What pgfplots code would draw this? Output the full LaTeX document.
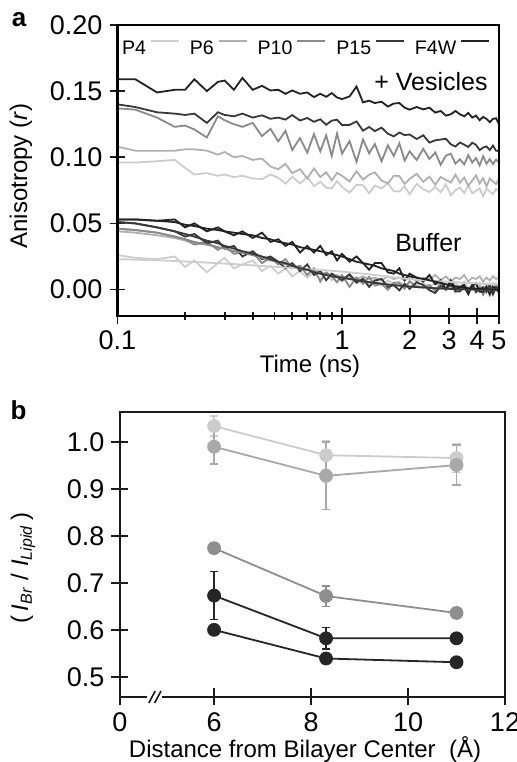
\documentclass[border=0pt]{standalone}
\usepackage{fontspec}
\setmainfont{Liberation Sans}
\usepackage{pgfplots}
\usepackage{pgfplotstable}
\pgfplotsset{compat=1.18}
\definecolor{cP4}{HTML}{CDCDCD}
\definecolor{cP6}{HTML}{B0B0B0}
\definecolor{cP10}{HTML}{8A8A8A}
\definecolor{cP15}{HTML}{383838}
\definecolor{cF4W}{HTML}{222222}
\definecolor{bS1}{HTML}{CCCCCC}
\definecolor{bS2}{HTML}{A9A9A9}
\definecolor{bS3}{HTML}{8E8E8E}
\definecolor{bS4}{HTML}{262626}
\definecolor{spine}{HTML}{1A1A1A}

\pgfplotstableread{
t V1 V2 V3 V4 V5 B1 B2 B3 B4 B5 F1 F2 F3 F5
0.10 0.159 0.140 0.137 0.108 0.096 0.053 0.051 0.046 0.044 0.026 0.053 0.051 0.046 0.0230
0.12 0.159 0.138 0.136 0.105 0.096 0.053 0.050 0.045 0.043 0.024 0.053 0.050 0.045 0.0226
0.15 0.149 0.134 0.130 0.105 0.097 0.052 0.047 0.043 0.041 0.023 0.052 0.047 0.043 0.0221
0.18 0.151 0.133 0.123 0.105 0.098 0.053 0.044 0.040 0.039 0.025 0.051 0.044 0.040 0.0216
0.20 0.151 0.132 0.124 0.106 0.092 0.047 0.040 0.038 0.037 0.017 0.049 0.042 0.038 0.0212
0.22 0.159 0.133 0.121 0.106 0.087 0.050 0.042 0.034 0.035 0.022 0.048 0.040 0.036 0.0209
0.25 0.150 0.126 0.115 0.105 0.088 0.044 0.035 0.036 0.034 0.013 0.046 0.037 0.034 0.0204
0.28 0.157 0.134 0.131 0.102 0.086 0.047 0.037 0.030 0.032 0.020 0.045 0.035 0.032 0.0199
0.30 0.158 0.132 0.128 0.104 0.087 0.044 0.031 0.033 0.031 0.024 0.044 0.033 0.031 0.0196
0.33 0.151 0.131 0.125 0.100 0.085 0.041 0.033 0.027 0.029 0.016 0.043 0.031 0.029 0.0192
0.36 0.160 0.133 0.123 0.101 0.086 0.044 0.025 0.028 0.028 0.019 0.042 0.029 0.028 0.0188
0.40 0.151 0.130 0.126 0.098 0.084 0.039 0.029 0.028 0.026 0.022 0.041 0.027 0.026 0.0183
0.44 0.154 0.1317 0.116 0.099 0.0835 0.043 0.023 0.020 0.025 0.014 0.039 0.025 0.024 0.0178
0.48 0.1505 0.1291 0.1215 0.093 0.087 0.036 0.025 0.024 0.023 0.018 0.038 0.023 0.022 0.0174
0.52 0.151 0.130 0.112 0.091 0.0845 0.038 0.021 0.019 0.021 0.012 0.036 0.021 0.021 0.0170
0.56 0.148 0.1285 0.120 0.095 0.080 0.033 0.016 0.023 0.020 0.016 0.035 0.020 0.019 0.0166
0.60 0.1505 0.1319 0.1055 0.088 0.0852 0.036 0.020 0.016 0.018 0.010 0.034 0.018 0.018 0.0163
0.65 0.148 0.1278 0.1145 0.091 0.0802 0.028 0.014 0.018 0.017 0.014 0.032 0.016 0.016 0.0159
0.70 0.149 0.1297 0.1035 0.084 0.0852 0.033 0.019 0.011 0.015 0.009 0.031 0.015 0.015 0.0155
0.75 0.1455 0.1268 0.1175 0.0915 0.0782 0.028 0.011 0.016 0.015 0.013 0.030 0.013 0.014 0.0151
0.80 0.148 0.1287 0.1045 0.085 0.0815 0.033 0.014 0.006 0.013 0.008 0.029 0.012 0.012 0.0148
0.85 0.1457 0.1246 0.1165 0.0887 0.077 0.026 0.007 0.013 0.012 0.012 0.028 0.011 0.011 0.0145
0.90 0.1485 0.1277 0.101 0.0825 0.0765 0.029 0.012 0.010 0.010 0.007 0.027 0.010 0.010 0.0142
0.95 0.1452 0.1284 0.118 0.0882 0.082 0.022 0.0095 0.0055 0.011 0.010 0.026 0.0095 0.0095 0.0139
1.00 0.144 0.1243 0.1028 0.086 0.0775 0.027 0.007 0.011 0.009 0.006 0.025 0.0090 0.0090 0.0136
1.08 0.146 0.1245 0.1122 0.0817 0.0733 0.021 0.0116 0.002 0.010 0.010 0.023 0.0080 0.0080 0.0130
1.16 0.1535 0.1271 0.0966 0.0894 0.0791 0.025 0.0052 0.009 0.008 0.005 0.021 0.0070 0.0070 0.0125
1.24 0.1415 0.1201 0.1135 0.0831 0.0789 0.020 0.0081 0.0043 0.010 0.009 0.020 0.0063 0.0063 0.0120
1.32 0.1428 0.1229 0.103 0.0868 0.0728 0.015 0.002 0.0096 0.008 0.004 0.019 0.0056 0.0056 0.0115
1.40 0.141 0.1198 0.110 0.0886 0.0786 0.020 0.0068 0.003 0.009 0.008 0.018 0.0050 0.0050 0.0110
1.50 0.142 0.1224 0.097 0.0824 0.0765 0.020 0.008 0.0044 0.007 0.003 0.016 0.0044 0.0044 0.0104
1.60 0.1383 0.1178 0.109 0.0802 0.0804 0.013 0.002 -0.0002 0.010 0.007 0.015 0.0038 0.0038 0.0098
1.70 0.1406 0.1158 0.101 0.086 0.0743 0.012 0.0033 0.0053 0.008 0.004 0.014 0.0033 0.0033 0.0092
1.80 0.141 0.1187 0.1105 0.0859 0.0742 0.016 -0.0006 0.005 0.009 0.006 0.012 0.0030 0.0030 0.0087
1.90 0.1375 0.1168 0.0975 0.0798 0.0781 0.007 0.0044 0.0006 0.007 0.002 0.011 0.0026 0.0026 0.0082
2.00 0.136 0.1172 0.1045 0.0837 0.072 0.012 0.0005 0.0063 0.010 0.006 0.010 0.0023 0.0023 0.0079
2.15 0.138 0.1138 0.0979 0.0875 0.0799 0.009 0.0055 0.0019 0.006 0.003 0.009 0.0019 0.0019 0.0075
2.30 0.1362 0.1166 0.1064 0.0814 0.0758 0.006 0.0034 0.0016 0.009 0.005 0.008 0.0016 0.0016 0.0071
2.45 0.1375 0.1111 0.0987 0.0853 0.0737 0.011 -0.0005 0.0033 0.008 0.002 0.007 0.0013 0.0013 0.0068
2.60 0.1338 0.1128 0.1036 0.0792 0.0776 0.004 -0.0026 -0.001 0.011 0.006 0.006 0.0010 0.0010 0.0065
2.75 0.135 0.1134 0.0943 0.0851 0.0735 0.007 0.0026 0.0048 0.007 0.002 0.005 0.0008 0.0008 0.0062
2.90 0.1315 0.114 0.1012 0.083 0.0794 0.000 0.0006 0.0006 0.010 0.005 0.004 0.0006 0.0006 0.0060
3.05 0.1325 0.1098 0.1027 0.0809 0.0712 0.007 0.0041 0.0045 0.006 0.001 0.003 0.0005 0.0005 0.0058
3.20 0.135 0.1081 0.0952 0.0868 0.0751 0.0005 -0.0014 -0.0016 0.009 0.005 0.0025 0.0004 0.0004 0.0056
3.35 0.1325 0.1112 0.0985 0.0807 0.077 0.002 -0.0015 0.0003 0.008 0.002 0.0020 0.0003 0.0003 0.0054
3.50 0.131 0.1095 0.0946 0.0846 0.0729 0.0035 0.002 0.0022 0.011 0.006 0.0015 0.0002 0.0002 0.0052
3.65 0.1335 0.1078 0.1016 0.0785 0.0788 -0.003 -0.0035 -0.0019 0.006 0.001 0.0010 0.0001 0.0001 0.0050
3.80 0.130 0.111 0.096 0.0824 0.0727 0.0028 0.0036 0.004 0.009 0.004 0.0008 0.0000 0.0000 0.0048
3.95 0.1315 0.1094 0.0994 0.0863 0.0746 0.0046 -0.0018 -0.002 0.008 0.001 0.0006 0.0000 0.0000 0.0046
4.10 0.128 0.1054 0.0938 0.0802 0.0765 -0.0016 0.000 0.002 0.010 0.005 0.0004 0.0000 0.0000 0.0045
4.25 0.1305 0.1074 0.1008 0.0841 0.0704 -0.0017 0.0018 -0.004 0.006 0.000 0.0003 0.0000 0.0000 0.0043
4.40 0.129 0.1082 0.0952 0.078 0.0763 0.0022 -0.0018 0.000 0.009 0.004 0.0002 0.0000 0.0000 0.0042
4.55 0.1265 0.1055 0.0986 0.0839 0.0742 -0.0039 0.0036 0.002 0.007 0.001 0.0001 0.0000 0.0000 0.0041
4.70 0.129 0.1088 0.0948 0.0818 0.0721 0.0022 -0.0036 -0.002 0.010 0.005 0.0000 0.0000 0.0000 0.0040
4.85 0.1295 0.1049 0.0982 0.0797 0.0761 0.000 0.0018 0.004 0.008 0.002 0.0000 0.0000 0.0000 0.0039
5.00 0.125 0.1048 0.0962 0.0836 0.074 -0.002 0.000 0.000 0.009 0.003 0.0000 0.0000 0.0000 0.0038
}\tblA

\begin{document}
\begin{tikzpicture}
\useasboundingbox (0,0) rectangle (258.5pt,381pt);
% ---------------- panel a ----------------
\begin{axis}[
  name=axA,
  at={(58.75pt,223pt)}, anchor=south west, scale only axis,
  width=190.75pt, height=145.5pt,
  xmode=log, xmin=0.1, xmax=5, ymin=-0.02, ymax=0.2,
  clip mode=individual,
  axis line style={line width=1.4pt, draw=black},
  xtick={0.1,1,2,3,4,5}, xticklabels={0.1,1,2,3,4,5},
  minor xtick={0.2,0.3,0.4,0.5,0.6,0.7,0.8,0.9},
  ytick={0,0.05,0.1,0.15,0.2},
  xtick pos=bottom, ytick pos=left,
  tick align=center, major tick length=8pt, minor tick length=4pt,
  tick style={line width=0.9pt, spine},
  /pgf/number format/assume math mode=true,
  tick label style={font=\fontsize{13.5}{16}\selectfont},
  yticklabel style={/pgf/number format/fixed, /pgf/number format/fixed zerofill, /pgf/number format/precision=2},
  legend style={at={(0.012,0.919)}, anchor=west, draw=none, fill=none,
    font=\fontsize{9.8}{11}\selectfont, inner sep=0pt, outer sep=0pt,
    nodes={inner sep=0pt},
    /tikz/every even column/.append style={column sep=5pt},
    /tikz/every odd column/.append style={column sep=2pt}},
  legend columns=5,
  legend plot pos=right,
  legend image code/.code={\draw[#1] (0pt,0.8ex) -- (14pt,0.8ex);},
]
\addlegendimage{cP4, line width=0.9pt}\addlegendentry{P4}
\addlegendimage{cP6, line width=0.9pt}\addlegendentry{P6}
\addlegendimage{cP10, line width=0.9pt}\addlegendentry{P10}
\addlegendimage{cP15, line width=0.9pt}\addlegendentry{P15}
\addlegendimage{cF4W, line width=0.9pt}\addlegendentry{F4W}
% vesicles
\addplot[cP4, line width=0.9pt, forget plot] table[x=t, y=V5]{\tblA};
\addplot[cP6, line width=0.9pt, forget plot] table[x=t, y=V4]{\tblA};
\addplot[cP10, line width=0.9pt, forget plot] table[x=t, y=V3]{\tblA};
\addplot[cP15, line width=0.9pt, forget plot] table[x=t, y=V2]{\tblA};
\addplot[cF4W, line width=0.9pt, forget plot] table[x=t, y=V1]{\tblA};
% buffer data
\addplot[cP4, line width=0.9pt, forget plot] table[x=t, y=B5]{\tblA};
\addplot[cP6, line width=0.9pt, forget plot] table[x=t, y=B4]{\tblA};
\addplot[cP10, line width=0.9pt, forget plot] table[x=t, y=B3]{\tblA};
\addplot[cP15, line width=0.9pt, forget plot] table[x=t, y=B2]{\tblA};
\addplot[cF4W, line width=0.9pt, forget plot] table[x=t, y=B1]{\tblA};
% fits
\addplot[cP4, line width=0.9pt, forget plot] table[x=t, y=F5]{\tblA};
\addplot[cP10, line width=0.9pt, forget plot] table[x=t, y=F3]{\tblA};
\addplot[cP15, line width=0.9pt, forget plot] table[x=t, y=F2]{\tblA};
\addplot[cF4W, line width=0.9pt, forget plot] table[x=t, y=F1]{\tblA};
\node[anchor=east, font=\fontsize{12.5}{14}\selectfont, inner sep=0pt] at (rel axis cs:0.971,0.804) {+ Vesicles};
\node[font=\fontsize{12.5}{14}\selectfont, inner sep=0pt] at (rel axis cs:0.815,0.251) {Buffer};
\end{axis}
\draw[line width=1.4pt, black, line cap=rect] (axA.south west) -- (axA.north west);
\draw[line width=1.4pt, black, line cap=rect] (axA.north west) -- (axA.north east);
\draw[line width=1.4pt, black, line cap=rect] (axA.north east) -- (axA.south east);
\draw[line width=1.4pt, black, line cap=rect] (axA.south east) -- (axA.south west);
% ---------------- panel b ----------------
\begin{axis}[
  at={(60pt,32.5pt)}, anchor=south west, scale only axis,
  width=192.5pt, height=142.5pt,
  xmin=4.06, xmax=12, ymin=0.457, ymax=1.064,
  clip=false,
  axis line style={line width=1.2pt, spine},
  xtick={4.06,6,8,10,12}, xticklabels={0,6,8,10,12},
  ytick={0.5,0.6,0.7,0.8,0.9,1.0},
  xtick pos=bottom, ytick pos=left,
  tick align=center, major tick length=8.5pt,
  tick style={line width=0.9pt, spine},
  /pgf/number format/assume math mode=true,
  tick label style={font=\fontsize{13.5}{16}\selectfont},
  yticklabel style={/pgf/number format/fixed, /pgf/number format/fixed zerofill, /pgf/number format/precision=1},
]
\addplot[bS1, line width=0.9pt, mark=*, mark size=3pt, mark options={fill=bS1, draw=bS1},
  error bars/.cd, y dir=both, y explicit,
  error bar style={line width=0.8pt, bS1},
  error mark options={rotate=90, mark size=2.2pt, line width=0.8pt, bS1}]
  coordinates {(6,1.034) +- (0,0.021) (8.31,0.972) +- (0,0.031) (11,0.966) +- (0,0.031)};
\addplot[bS2, line width=0.9pt, mark=*, mark size=3pt, mark options={fill=bS2, draw=bS2},
  error bars/.cd, y dir=both, y explicit,
  error bar style={line width=0.8pt, bS2},
  error mark options={rotate=90, mark size=2.2pt, line width=0.8pt, bS2}]
  coordinates {(6,0.990) +- (0,0.037) (8.31,0.928) +- (0,0.072) (11,0.951) +- (0,0.043)};
\addplot[bS3, line width=0.9pt, mark=*, mark size=3pt, mark options={fill=bS3, draw=bS3},
  error bars/.cd, y dir=both, y explicit,
  error bar style={line width=0.8pt, bS3},
  error mark options={rotate=90, mark size=2.2pt, line width=0.8pt, bS3}]
  coordinates {(6,0.774) +- (0,0.006) (8.31,0.672) +- (0,0.022) (11,0.636) +- (0,0.006)};
\addplot[bS4, line width=0.9pt, mark=*, mark size=3pt, mark options={fill=bS4, draw=bS4},
  error bars/.cd, y dir=both, y explicit,
  error bar style={line width=0.8pt, bS4},
  error mark options={rotate=90, mark size=2.2pt, line width=0.8pt, bS4}]
  coordinates {(6,0.673) +- (0,0.051) (8.31,0.582) +- (0,0.023) (11,0.582) +- (0,0.005)};
\addplot[bS4, line width=0.9pt, mark=*, mark size=3pt, mark options={fill=bS4, draw=bS4},
  error bars/.cd, y dir=both, y explicit,
  error bar style={line width=0.8pt, bS4},
  error mark options={rotate=90, mark size=2.2pt, line width=0.8pt, bS4}]
  coordinates {(6,0.600) +- (0,0.010) (8.31,0.539) +- (0,0.010) (11,0.531) +- (0,0.008)};
% axis break
\fill[white] ([yshift=-2pt]axis cs:4.62,0.457) rectangle ([yshift=2pt]axis cs:4.93,0.457);
\draw[line width=0.8pt, spine] ([xshift=-1.6pt,yshift=-3pt]axis cs:4.72,0.457) -- ([xshift=1.6pt,yshift=3pt]axis cs:4.72,0.457);
\draw[line width=0.8pt, spine] ([xshift=-1.6pt,yshift=-3pt]axis cs:4.84,0.457) -- ([xshift=1.6pt,yshift=3pt]axis cs:4.84,0.457);
\end{axis}
% labels
\node[font=\bfseries\fontsize{13}{15}\selectfont] at (9.5pt,371pt) {a};
\node[font=\bfseries\fontsize{13}{15}\selectfont] at (9.25pt,175.75pt) {b};
\node[rotate=90, font=\fontsize{12}{14}\selectfont] at (10.5pt,293pt) {Anisotropy (\textit{r})};
\node[font=\fontsize{12}{14}\selectfont] at (155pt,198pt) {Time (ns)};
\node[font=\fontsize{12}{14}\selectfont] at (152.5pt,6pt) {Distance from Bilayer Center\ \ (Å)};
\node[rotate=90, font=\fontsize{12}{14}\selectfont] at (11.5pt,97pt) {(\,\textit{I}\textsubscript{\textit{Br}} / \textit{I}\textsubscript{\textit{Lipid}}\,)};
\end{tikzpicture}
\end{document}
